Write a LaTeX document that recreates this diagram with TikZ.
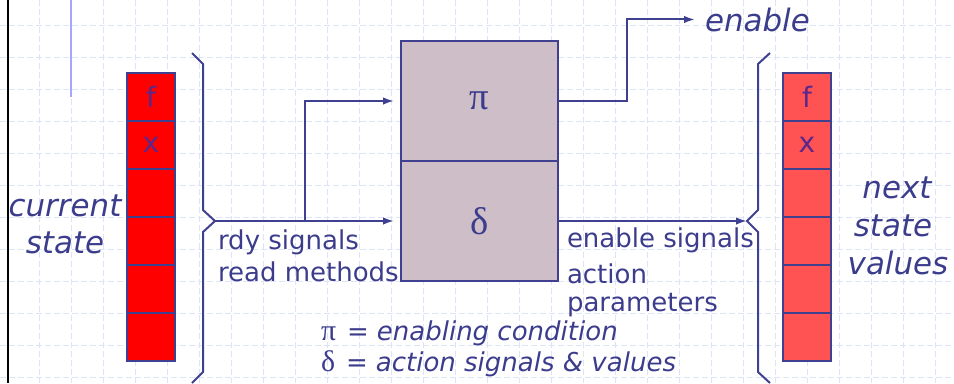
\documentclass[tikz,border=0pt]{standalone}
\usepackage{fontspec}
\setmainfont{DejaVu Sans}
\newfontfamily\symfont{Liberation Serif}
\usetikzlibrary{arrows.meta}
\definecolor{ink}{RGB}{60,60,140}
\definecolor{edge}{RGB}{64,64,144}
\definecolor{gridc}{RGB}{222,228,248}
\definecolor{curred}{RGB}{255,0,0}
\definecolor{nextred}{RGB}{255,82,82}
\definecolor{fsmfill}{RGB}{205,190,199}
\definecolor{cellink}{RGB}{90,40,140}
\begin{document}
\begin{tikzpicture}[x=0.02cm, y=-0.02cm, line width=0.04cm,
  every node/.style={font=\fontsize{14.8}{18}\selectfont, text=ink},
  >={Latex[length=0.22cm,width=0.15cm]},
  cell/.style={draw=edge, minimum width=0.96cm, minimum height=0.96cm, inner sep=0pt, text=cellink,
    font=\fontsize{16}{18}\selectfont},
  fsm/.style={draw=edge, fill=fsmfill, minimum width=3.14cm, minimum height=2.4cm, inner sep=0pt,
    font=\fontsize{22}{24}\symfont},
  lbl/.style={inner sep=0pt, anchor=base west},
  side/.style={inner sep=0pt, anchor=base, font=\fontsize{17.6}{20}\selectfont\itshape},
  wire/.style={draw=edge, ->}]
\useasboundingbox (0,0) rectangle (954,383);
% background grid
\foreach \gx in {39,71,...,935}
  \draw[gridc, line width=0.02cm, dash pattern=on 0.12cm off 0.06cm] (\gx,0) -- (\gx,383);
\foreach \gy in {25,57,...,377}
  \draw[gridc, line width=0.02cm, dash pattern=on 0.12cm off 0.06cm] (0,\gy) -- (954,\gy);
\draw[black, line width=0.05cm] (8,0) -- (8,383);
\draw[blue!35, line width=0.03cm] (71,0) -- (71,97);
% state registers
\foreach \i/\t in {0/f,1/x,2/{},3/{},4/{},5/{}} {
  \node[cell, fill=curred] (cur\i) at (151,97+48*\i) {\t};
  \node[cell, fill=nextred] (nxt\i) at (807,97+48*\i) {\t};
}
% braces
\draw[edge] (192,53) -- (203,64) -- (203,210) -- (215,221) coordinate (ltip)
  -- (203,232) -- (203,372) -- (192,383);
\draw[edge] (770,53) -- (758,64) -- (758,210) -- (747,221) coordinate (rtip)
  -- (758,232) -- (758,372) -- (770,383);
% pi / delta block
\node[fsm] (pi) at (479.5,101) {π};
\node[fsm] (delta) at (479.5,221) {δ};
\node[lbl, font=\fontsize{17.6}{20}\selectfont\itshape] (en) at (704,31) {enable};
\coordinate (split) at (305,221);
\draw[wire, shorten >=0.12cm] (ltip) -- (delta.west);
\draw[wire, shorten >=0.12cm] (split) |- (pi.west);
\draw[wire, shorten >=0.18cm] (pi.east) -- ++(68,0) |- (en.west);
\draw[wire] (delta.east) -- (rtip);
% labels
\node[lbl] (rdy) at (217,249) {rdy signals};
\node[lbl] (rdm) at (217,281) {read methods};
\node[lbl] (ens) at (566,247) {enable signals};
\node[lbl] (act) at (566,283) {action};
\node[lbl] (par) at (566,311) {parameters};
\node[side] (cur) at (65,216) {current};
\node[side] (cst) at (65,253) {state};
\node[side] (nx) at (897,198) {next};
\node[side] (nst) at (893,236) {state};
\node[side] (nva) at (898,274) {values};
\node[lbl] (pidef) at (320,340) {{\fontsize{17}{18}\symfont π}\hspace{0.22cm}=\hspace{0.16cm}\textit{enabling condition}};
\node[lbl] (deldef) at (320,371) {{\fontsize{17}{18}\symfont δ}\hspace{0.22cm}=\hspace{0.16cm}\textit{action signals \& values}};
\end{tikzpicture}
\end{document}
